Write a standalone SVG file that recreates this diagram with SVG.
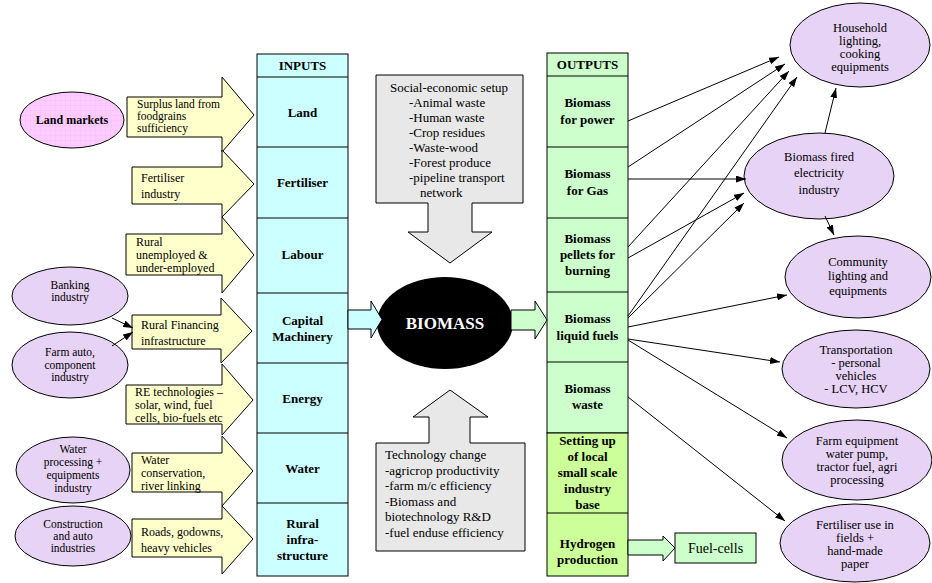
<svg xmlns="http://www.w3.org/2000/svg" width="932" height="583" viewBox="0 0 932 583" font-family="'Liberation Serif', 'Times New Roman', serif">
<style>
text{font-family:'Liberation Serif','Times New Roman',serif;fill:#000}
.b{font-weight:bold;font-size:13px}
.c{text-anchor:middle}
.y{font-size:12px}
.l{font-size:11.5px}
.g{font-size:13px}
.e{font-size:12.5px}
.box{stroke:#000;stroke-width:1}
.in{fill:#CCFFFF}
.out{fill:#CCFFCC}
.out2{fill:#CCFF99}
.yel{fill:#FFFFCC;stroke:#000;stroke-width:1}
.lav{fill:#E6D3F5;stroke:#000;stroke-width:1}
.gray{fill:#E8E8E8;stroke:#000;stroke-width:1}
.con{stroke:#000;stroke-width:1;fill:none;marker-end:url(#ah)}
</style>
<defs>
<marker id="ah" viewBox="0 0 10 7" refX="10" refY="3.5" markerWidth="10" markerHeight="7" markerUnits="userSpaceOnUse" orient="auto">
<path d="M0,0 L10,3.5 L0,7 z" fill="#000"/>
</marker>
<pattern id="grid" width="5" height="5" patternUnits="userSpaceOnUse">
<rect width="5" height="5" fill="#FFCCFF"/>
<path d="M0,0 H5 M0,0 V5" stroke="#F0B8F0" stroke-width="0.6"/>
</pattern>
</defs>
<rect width="932" height="583" fill="#fff"/>

<!-- Left ellipses -->
<g id="land-markets"><ellipse cx="72" cy="120" rx="52" ry="28" fill="url(#grid)" stroke="#000"/><text class="c b" x="72" y="124" style="font-size:12px">Land markets</text></g>
<g id="banking"><ellipse class="lav" cx="70" cy="296" rx="58" ry="29"/><text class="c l" x="70" y="289">Banking</text><text class="c l" x="70" y="301">industry</text></g>
<g id="farm-auto"><ellipse class="lav" cx="70" cy="365" rx="58" ry="33"/><text class="c l" x="70" y="356">Farm auto,</text><text class="c l" x="70" y="368.5">component</text><text class="c l" x="70" y="381">industry</text></g>
<g id="water-processing"><ellipse class="lav" cx="73" cy="470" rx="57" ry="33"/><text class="c l" x="73" y="453">Water</text><text class="c l" x="73" y="466">processing +</text><text class="c l" x="73" y="479">equipments</text><text class="c l" x="73" y="492">industry</text></g>
<g id="construction"><ellipse class="lav" cx="73" cy="536" rx="58" ry="30"/><text class="c l" x="73" y="528">Construction</text><text class="c l" x="73" y="540">and auto</text><text class="c l" x="73" y="552">industries</text></g>

<!-- Yellow callout arrows -->
<g id="surplus-land"><path class="yel" d="M127,97 H222 V77 L254,115 L222,152 V137 H127 Z"/><text class="l" x="137" y="108">Surplus land from</text><text class="l" x="137" y="120">foodgrains</text><text class="l" x="137" y="132">sufficiency</text></g>
<g id="fertiliser-industry"><path class="yel" d="M132,167 H222 V150 L254,184 L222,217 V204 H132 Z"/><text class="y" x="141" y="182">Fertiliser</text><text class="y" x="141" y="198">industry</text></g>
<g id="rural-unemployed"><path class="yel" d="M126,234 H222 V217 L254,255 L222,293 V275 H126 Z"/><text class="y" x="136" y="246">Rural</text><text class="y" x="136" y="259">unemployed &amp;</text><text class="y" x="136" y="272">under-employed</text></g>
<g id="rural-financing"><path class="yel" d="M132,315 H221 V298 L252,331 L221,363 V349 H132 Z"/><text class="y" x="141" y="329">Rural Financing</text><text class="y" x="141" y="345">infrastructure</text></g>
<g id="re-technologies"><path class="yel" d="M126,385 H222 V364 L253,400 L222,435 V424 H126 Z"/><text class="y" x="135" y="396">RE technologies –</text><text class="y" x="135" y="409">solar, wind, fuel</text><text class="y" x="135" y="422">cells, bio-fuels etc</text></g>
<g id="water-conservation"><path class="yel" d="M132,453 H222 V436 L253,471 L222,506 V492 H132 Z"/><text class="y" x="141" y="464">Water</text><text class="y" x="141" y="477">conservation,</text><text class="y" x="141" y="490">river linking</text></g>
<g id="roads"><path class="yel" d="M132,519 H222 V506 L253,539 L222,574 V557 H132 Z"/><text class="y" x="141" y="536">Roads, godowns,</text><text class="y" x="141" y="552">heavy vehicles</text></g>

<!-- Inputs column -->
<g id="inputs">
<rect class="box in" x="257" y="54" width="91" height="522"/>
<path d="M257,77 H348 M257,147 H348 M257,218 H348 M257,293 H348 M257,363 H348 M257,433 H348 M257,503 H348" stroke="#000" fill="none"/>
<text class="c b" x="302.5" y="70">INPUTS</text>
<text class="c b" x="302.5" y="117">Land</text>
<text class="c b" x="302.5" y="187">Fertiliser</text>
<text class="c b" x="302.5" y="259">Labour</text>
<text class="c b" x="302.5" y="325">Capital</text><text class="c b" x="302.5" y="341">Machinery</text>
<text class="c b" x="302.5" y="403">Energy</text>
<text class="c b" x="302.5" y="473">Water</text>
<text class="c b" x="302.5" y="528">Rural</text><text class="c b" x="302.5" y="544">infra-</text><text class="c b" x="302.5" y="560">structure</text>
</g>

<!-- Outputs column -->
<g id="outputs">
<rect class="box out" x="547" y="53" width="81" height="380"/>
<rect class="box out2" x="547" y="433" width="81" height="143"/>
<path d="M547,76 H628 M547,147 H628 M547,218 H628 M547,292 H628 M547,362 H628 M547,513 H628" stroke="#000" fill="none"/>
<text class="c b" x="587.5" y="69">OUTPUTS</text>
<text class="c b" x="587.5" y="107">Biomass</text><text class="c b" x="587.5" y="124">for power</text>
<text class="c b" x="587.5" y="178">Biomass</text><text class="c b" x="587.5" y="195">for Gas</text>
<text class="c b" x="587.5" y="243">Biomass</text><text class="c b" x="587.5" y="259">pellets for</text><text class="c b" x="587.5" y="275">burning</text>
<text class="c b" x="587.5" y="323">Biomass</text><text class="c b" x="587.5" y="340">liquid fuels</text>
<text class="c b" x="587.5" y="393">Biomass</text><text class="c b" x="587.5" y="409">waste</text>
<text class="c b" x="587.5" y="445">Setting up</text><text class="c b" x="587.5" y="461">of  local</text><text class="c b" x="587.5" y="477">small scale</text><text class="c b" x="587.5" y="493">industry</text><text class="c b" x="587.5" y="509">base</text>
<text class="c b" x="587.5" y="548">Hydrogen</text><text class="c b" x="587.5" y="564">production</text>
</g>

<!-- Biomass -->
<g id="biomass"><ellipse cx="445" cy="323" rx="68" ry="46" fill="#000"/><text class="c" x="445" y="329" style="font-weight:bold;font-size:17px;fill:#fff">BIOMASS</text></g>

<!-- Block arrows -->
<g id="block-arrows">
<path d="M348,310 H371 V301 L382,319.5 L371,338 V329 H348 Z" fill="#CCFFFF" stroke="#000"/>
<path d="M511,310 H535 V301 L547,320 L535,339 V330 H511 Z" fill="#CCFFCC" stroke="#000"/>
<path d="M628,540 H663 V536 L675,548 L663,561 V555 H628 Z" fill="#CCFFCC" stroke="#000"/>
</g>

<!-- Gray boxes -->
<g id="social-economic"><path class="gray" d="M376,75 H523 V203 H472 V232 H492 L450,263 L408,232 H428 V203 H376 Z"/>
<text class="c g" x="449" y="92">Social-economic setup</text>
<text class="g" x="409" y="107">-Animal waste</text>
<text class="g" x="409" y="122">-Human waste</text>
<text class="g" x="409" y="137">-Crop residues</text>
<text class="g" x="409" y="152">-Waste-wood</text>
<text class="g" x="409" y="167">-Forest produce</text>
<text class="g" x="409" y="182">-pipeline transport</text>
<text class="g" x="420" y="197">network</text></g>
<g id="technology-change"><path class="gray" d="M376,443 H429 V417 H413 L450,390 L488,417 H470 V443 H525 V551 H376 Z"/>
<text class="g" x="385" y="459">Technology change</text>
<text class="g" x="385" y="474.5">-agricrop productivity</text>
<text class="g" x="385" y="490">-farm m/c efficiency</text>
<text class="g" x="385" y="505.5">-Biomass and</text>
<text class="g" x="385" y="521">biotechnology R&amp;D</text>
<text class="g" x="385" y="536.5">-fuel enduse efficiency</text></g>

<!-- Fuel cells -->
<g id="fuel-cells"><rect class="box out" x="675" y="533" width="81" height="30"/><text class="c" x="715.5" y="553" style="font-size:14px">Fuel-cells</text></g>

<!-- Right ellipses -->
<g id="household"><ellipse class="lav" cx="860" cy="45" rx="70" ry="42"/><text class="c e" x="860" y="32">Household</text><text class="c e" x="860" y="45">lighting,</text><text class="c e" x="860" y="58">cooking</text><text class="c e" x="860" y="71">equipments</text></g>
<g id="biomass-fired"><ellipse class="lav" cx="819" cy="176" rx="75" ry="43"/><text class="c e" x="819" y="161">Biomass fired</text><text class="c e" x="819" y="177">electricity</text><text class="c e" x="819" y="194">industry</text></g>
<g id="community"><ellipse class="lav" cx="858" cy="277" rx="73" ry="41"/><text class="c e" x="858" y="266">Community</text><text class="c e" x="858" y="280">lighting and</text><text class="c e" x="858" y="295">equipments</text></g>
<g id="transportation"><ellipse class="lav" cx="856" cy="369" rx="74" ry="39"/><text class="c e" x="856" y="354">Transportation</text><text class="c e" x="856" y="367">- personal</text><text class="c e" x="856" y="380">vehicles</text><text class="c e" x="856" y="393">- LCV, HCV</text></g>
<g id="farm-equipment"><ellipse class="lav" cx="857" cy="460" rx="75" ry="40"/><text class="c e" x="857" y="445">Farm equipment</text><text class="c e" x="857" y="458">water pump,</text><text class="c e" x="857" y="471">tractor fuel, agri</text><text class="c e" x="857" y="484">processing</text></g>
<g id="fertiliser-use"><ellipse class="lav" cx="855" cy="543" rx="75" ry="39"/><text class="c e" x="855" y="529">Fertiliser use in</text><text class="c e" x="855" y="542">fields +</text><text class="c e" x="855" y="555">hand-made</text><text class="c e" x="855" y="568">paper</text></g>

<!-- Connectors -->
<g id="connectors">
<line class="con" x1="112" y1="318" x2="133" y2="328"/>
<line class="con" x1="112" y1="346" x2="133" y2="332"/>
<line class="con" x1="628" y1="121" x2="779" y2="57"/>
<line class="con" x1="628" y1="167" x2="785" y2="64"/>
<line class="con" x1="628" y1="179" x2="746" y2="179"/>
<line class="con" x1="628" y1="247" x2="789" y2="71"/>
<line class="con" x1="628" y1="258" x2="744" y2="193"/>
<line class="con" x1="628" y1="316" x2="797" y2="77"/>
<line class="con" x1="628" y1="318" x2="744" y2="203"/>
<line class="con" x1="628" y1="327" x2="787" y2="295"/>
<line class="con" x1="628" y1="339" x2="780" y2="362"/>
<line class="con" x1="628" y1="340" x2="787" y2="438"/>
<line class="con" x1="628" y1="397" x2="785" y2="521"/>
<line class="con" x1="825" y1="133" x2="836" y2="88"/>
<line class="con" x1="825" y1="216" x2="834" y2="235"/>
</g>
</svg>
